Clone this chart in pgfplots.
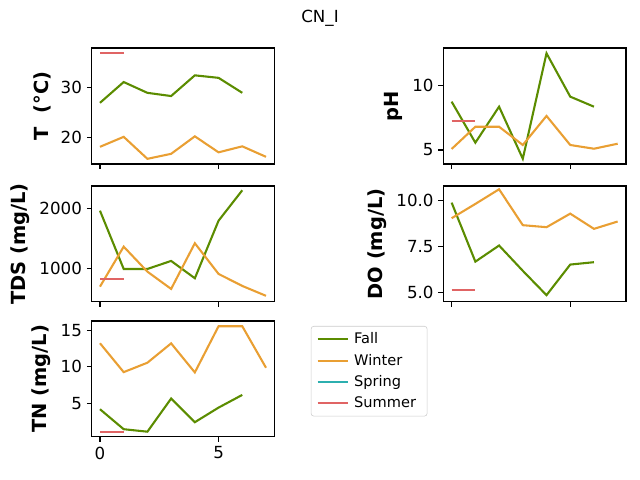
\documentclass[border=0pt]{standalone}
\usepackage{fontspec}
\setmainfont{DejaVu Sans}
\usepackage{pgfplots}
\pgfplotsset{compat=1.18}

\definecolor{fall}{HTML}{5B8C00}
\definecolor{winter}{HTML}{E99F33}
\definecolor{spring}{HTML}{2CAFAF}
\definecolor{summer}{HTML}{E06464}

\pgfplotsset{
  panel/.style={
    scale only axis, width=131.5pt, height=83.5pt, anchor=south west,
    xmin=-0.35, xmax=7.35, xtick={0,5},
    axis line style={line width=0.8pt},
    tick align=outside, xtick pos=bottom, ytick pos=left,
    major tick length=3.5pt,
    every tick/.style={black, line width=0.8pt},
    tick label style={font=\fontsize{12}{14}\selectfont},
    ylabel style={font=\bfseries\fontsize{14}{16}\selectfont},
    /pgf/number format/assume math mode=true,
    /pgf/number format/1000 sep={},
    every axis plot/.append style={line width=1.5pt, mark=none},
    legend image code/.code={\draw[#1] (0pt,0pt) -- (21.5pt,0pt);},
  },
  nolabels/.style={xticklabels={}},
}

\begin{document}
\begin{tikzpicture}
\path[use as bounding box] (0,0) rectangle (460.8pt,345.6pt);
\node[font=\fontsize{12}{14}\selectfont] at (230.4pt,332.6pt) {CN\_I};

% Temperature
\begin{axis}[panel, nolabels, at={(66pt,227.5pt)},
  ymin=14.66, ymax=37.86, ytick={20,30}, ylabel={T\ \ (°C)}]
\addplot[fall] coordinates {(0,26.9) (1,31.06) (2,28.9) (3,28.26) (4,32.4) (5,31.9) (6,28.9)};
\addplot[winter] coordinates {(0,18.1) (1,20.1) (2,15.7) (3,16.7) (4,20.2) (5,17.0) (6,18.2) (7,16.1)};
\addplot[summer] coordinates {(0,36.9) (1,36.9)};
\end{axis}

% pH
\begin{axis}[panel, nolabels, at={(319.2pt,227.5pt)},
  ymin=3.91, ymax=12.93, ytick={5,10}, ylabel={pH}]
\addplot[fall] coordinates {(0,8.76) (1,5.57) (2,8.37) (3,4.32) (4,12.52) (5,9.15) (6,8.37)};
\addplot[winter] coordinates {(0,5.08) (1,6.81) (2,6.81) (3,5.39) (4,7.65) (5,5.39) (6,5.10) (7,5.49)};
\addplot[summer] coordinates {(0,7.26) (1,7.26)};
\end{axis}

% TDS
\begin{axis}[panel, nolabels, at={(66pt,128.2pt)},
  ymin=438, ymax=2372, ytick={1000,2000}, ylabel={TDS (mg/L)}]
\addplot[fall] coordinates {(0,1960) (1,988) (2,988) (3,1122) (4,833) (5,1793) (6,2300)};
\addplot[winter] coordinates {(0,693) (1,1360) (2,943) (3,655) (4,1417) (5,905) (6,705) (7,540)};
\addplot[summer] coordinates {(0,827) (1,827)};
\end{axis}

% DO
\begin{axis}[panel, nolabels, at={(319.2pt,128.2pt)},
  ymin=4.47, ymax=10.80, ytick={5,7.5,10}, ylabel={DO (mg/L)},
  yticklabel style={/pgf/number format/.cd, fixed, fixed zerofill, precision=1}]
\addplot[fall] coordinates {(0,9.89) (1,6.67) (2,7.55) (3,6.17) (4,4.84) (5,6.51) (6,6.64)};
\addplot[winter] coordinates {(0,9.04) (1,9.82) (2,10.62) (3,8.66) (4,8.55) (5,9.29) (6,8.46) (7,8.86)};
\addplot[summer] coordinates {(0,5.14) (1,5.14)};
\end{axis}

% TN, carries the legend
\begin{axis}[panel, at={(66pt,31pt)},
  ymin=0.38, ymax=16.27, ytick={5,10,15}, ylabel={TN (mg/L)},
  legend cell align=left,
  legend style={at={(1.2,0.957)}, anchor=north west, draw=black!20,
    rounded corners=2pt, font=\fontsize{10.5}{12}\selectfont,
    inner xsep=4pt, inner ysep=2.5pt, row sep=2pt,
    nodes={inner xsep=4pt}}]
\addplot[fall] coordinates {(0,4.18) (1,1.44) (2,1.10) (3,5.64) (4,2.40) (5,4.40) (6,6.14)};
\addlegendentry{Fall}
\addplot[winter] coordinates {(0,13.22) (1,9.26) (2,10.55) (3,13.2) (4,9.22) (5,15.55) (6,15.55) (7,9.86)};
\addlegendentry{Winter}
\addlegendimage{spring, line width=1.5pt}
\addlegendentry{Spring}
\addplot[summer] coordinates {(0,1.08) (1,1.08)};
\addlegendentry{Summer}
\end{axis}
\end{tikzpicture}
\end{document}
